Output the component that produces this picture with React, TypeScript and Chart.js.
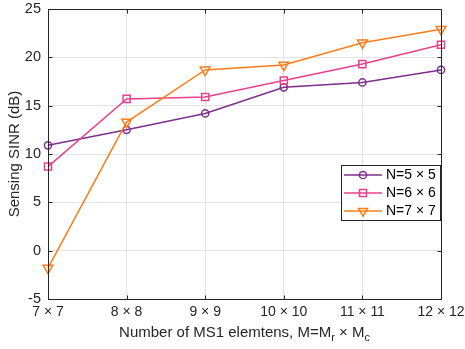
import React, { useEffect, useRef } from "react";
import { Chart, registerables } from "chart.js";

Chart.register(...registerables);

const categories = ["7 × 7", "8 × 8", "9 × 9", "10 × 10", "11 × 11", "12 × 12"];
const seriesN5 = [10.9, 12.5, 14.2, 16.9, 17.4, 18.7];
const seriesN6 = [8.7, 15.7, 15.9, 17.6, 19.3, 21.3];
const seriesN7 = [-1.8, 13.3, 18.7, 19.2, 21.5, 22.9];
const seriesNames = ["N=5 × 5", "N=6 × 6", "N=7 × 7"];
const yMin = -5;
const yMax = 25;
const yStep = 5;

const COLORS = ["#7e2f8e", "#e8408c", "#fa7d1a"];
const FONT = "'Liberation Sans', Arial, Helvetica, sans-serif";
const AXIS = "#262626";

function drawMarker(ctx: CanvasRenderingContext2D, kind: number, x: number, y: number) {
  ctx.beginPath();
  if (kind === 0) {
    ctx.arc(x, y, 3.6, 0, Math.PI * 2);
  } else if (kind === 1) {
    ctx.rect(x - 3.5, y - 3.5, 7, 7);
  } else {
    ctx.moveTo(x - 4.5, y - 2.6);
    ctx.lineTo(x + 4.5, y - 2.6);
    ctx.lineTo(x, y + 5.2);
    ctx.closePath();
  }
  ctx.stroke();
}

const framePlugin = {
  id: "matlabFrame",
  afterDraw(chart: any) {
    const ctx: CanvasRenderingContext2D = chart.ctx;
    const { left, right, top, bottom } = chart.chartArea;
    const xs = chart.scales.x;
    const ys = chart.scales.y;
    ctx.save();
    ctx.strokeStyle = AXIS;
    ctx.lineWidth = 1;
    const L = Math.round(left) + 0.5;
    const R = Math.round(right) + 0.5;
    const T = Math.round(top) + 0.5;
    const B = Math.round(bottom) + 0.5;
    ctx.beginPath();
    ctx.rect(L, T, R - L, B - T);
    ctx.stroke();
    ctx.beginPath();
    xs.ticks.forEach((_: any, i: number) => {
      const px = Math.round(xs.getPixelForTick(i)) + 0.5;
      ctx.moveTo(px, B);
      ctx.lineTo(px, B - 4);
      ctx.moveTo(px, T);
      ctx.lineTo(px, T + 4);
    });
    ys.ticks.forEach((_: any, i: number) => {
      const py = Math.round(ys.getPixelForTick(i)) + 0.5;
      ctx.moveTo(L, py);
      ctx.lineTo(L + 4, py);
      ctx.moveTo(R, py);
      ctx.lineTo(R - 4, py);
    });
    ctx.stroke();

    // Legend
    const bx = 341.5, by = 165.5, bw = 99, bh = 55;
    ctx.fillStyle = "#ffffff";
    ctx.fillRect(bx, by, bw, bh);
    ctx.strokeStyle = AXIS;
    ctx.strokeRect(bx, by, bw, bh);
    const rows = [175, 193, 211];
    ctx.font = `14px ${FONT}`;
    ctx.textBaseline = "middle";
    ctx.textAlign = "left";
    rows.forEach((ry, k) => {
      ctx.strokeStyle = COLORS[k];
      ctx.lineWidth = 1.5;
      ctx.beginPath();
      ctx.moveTo(344, ry);
      ctx.lineTo(382, ry);
      ctx.stroke();
      drawMarker(ctx, k, 363, ry);
      ctx.fillStyle = "#000000";
      ctx.fillText(seriesNames[k], 386, ry + 0.5);
    });

    // Y title
    ctx.save();
    ctx.translate(15, (top + bottom) / 2);
    ctx.rotate(-Math.PI / 2);
    ctx.font = `15px ${FONT}`;
    ctx.textAlign = "center";
    ctx.textBaseline = "middle";
    ctx.fillStyle = AXIS;
    ctx.fillText("Sensing SINR (dB)", 0, 0);
    ctx.restore();

    // X title with subscripts
    const parts: [string, boolean][] = [
      ["Number of MS1 elemtens, M=M", false],
      ["r", true],
      [" × M", false],
      ["c", true],
    ];
    const mainFont = `15px ${FONT}`;
    const subFont = `11px ${FONT}`;
    let total = 0;
    parts.forEach(([t, sub]) => {
      ctx.font = sub ? subFont : mainFont;
      total += ctx.measureText(t).width;
    });
    let cx = (left + right) / 2 - total / 2;
    const cy = 333;
    ctx.textAlign = "left";
    ctx.textBaseline = "middle";
    ctx.fillStyle = AXIS;
    parts.forEach(([t, sub]) => {
      ctx.font = sub ? subFont : mainFont;
      ctx.fillText(t, cx, sub ? cy + 5 : cy);
      cx += ctx.measureText(t).width;
    });
    ctx.restore();
  },
};

export default function App() {
  const ref = useRef<HTMLCanvasElement | null>(null);
  useEffect(() => {
    document.body.style.margin = "0";
    const canvas = ref.current!;
    const mk = (label: string, data: number[], k: number, style: any, radius: number, rot: number, order: number) => ({
      label,
      data,
      borderColor: COLORS[k],
      backgroundColor: COLORS[k],
      borderWidth: 1.5,
      pointStyle: style,
      pointRadius: radius,
      pointRotation: rot,
      pointBorderColor: COLORS[k],
      pointBackgroundColor: "rgba(0,0,0,0)",
      pointBorderWidth: 1.5,
      tension: 0,
      order,
    });
    const chart = new Chart(canvas, {
      type: "line",
      data: {
        labels: categories,
        datasets: [
          mk(seriesNames[0], seriesN5, 0, "circle", 3.6, 0, 3),
          mk(seriesNames[1], seriesN6, 1, "rect", 5, 0, 2),
          mk(seriesNames[2], seriesN7, 2, "triangle", 5.6, 180, 1),
        ],
      },
      options: {
        responsive: false,
        animation: false,
        layout: { padding: { top: 9, right: 24, left: 0, bottom: 0 } },
        plugins: { legend: { display: false }, tooltip: { enabled: false }, title: { display: false } },
        scales: {
          x: {
            type: "category",
            offset: false,
            grid: { color: "#e3e3e3", drawTicks: false, lineWidth: 1 },
            border: { display: false },
            ticks: { color: AXIS, font: { size: 14, family: FONT }, padding: 5, maxRotation: 0, autoSkip: false },
            afterFit: (s: any) => {
              s.height = 50;
              s.paddingLeft = 0;
              s.paddingRight = 0;
            },
          },
          y: {
            min: yMin,
            max: yMax,
            grid: { color: "#e3e3e3", drawTicks: false, lineWidth: 1 },
            border: { display: false },
            ticks: { stepSize: yStep, color: AXIS, font: { size: 14.5, family: FONT }, padding: 7 },
            afterFit: (s: any) => {
              s.width = 48;
              s.paddingTop = 0;
              s.paddingBottom = 0;
            },
          },
        },
      },
      plugins: [framePlugin],
    });
    return () => chart.destroy();
  }, []);
  return (
    <canvas
      ref={ref}
      width={465}
      height={349}
      style={{ display: "block", width: 465, height: 349 }}
    />
  );
}
